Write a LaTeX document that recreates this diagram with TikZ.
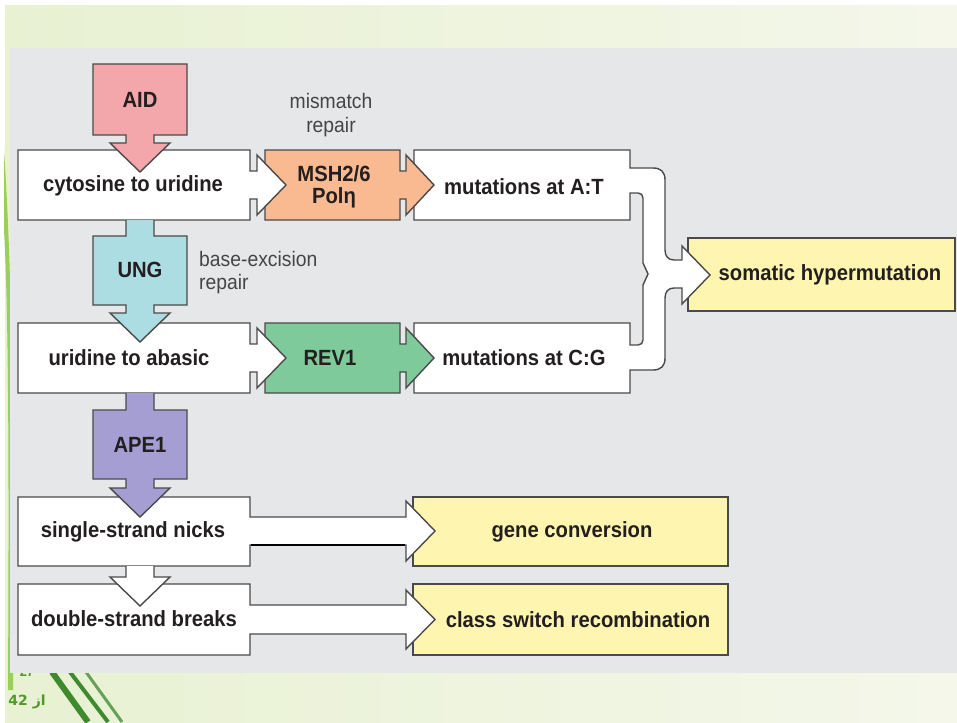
\documentclass[tikz,border=0pt]{standalone}
\usepackage{fontspec}
\setmainfont{Liberation Sans}[FakeStretch=0.92]
\newfontfamily\arabicfont[Script=Arabic]{DejaVu Sans}
\TeXXeTstate=1
\definecolor{panel}{HTML}{E6E7E9}
\definecolor{bgl}{HTML}{E8F1D2}
\definecolor{bgr}{HTML}{F4F7EA}
\definecolor{leaf}{HTML}{9CCF5A}
\definecolor{leafd}{HTML}{3E8B2E}
\definecolor{pgnum}{HTML}{4E9A2A}
\definecolor{outl}{HTML}{4A4A4A}
\definecolor{txt}{HTML}{231F20}
\definecolor{notec}{HTML}{454545}
\definecolor{aidc}{HTML}{F4A7AA}
\definecolor{mshc}{HTML}{F9BA91}
\definecolor{ungc}{HTML}{ABDDE3}
\definecolor{revc}{HTML}{7FCA9A}
\definecolor{apec}{HTML}{A59ED2}
\definecolor{yelc}{HTML}{FEF6B0}
\tikzset{
  blk/.style={draw=outl, line width=1.4pt, line join=miter},
  lbl/.style={font=\fontsize{22}{24}\selectfont\bfseries, text=txt, inner sep=0pt},
  note/.style={font=\fontsize{21}{25}\selectfont, text=notec, inner sep=0pt},
  pg/.style={font=\fontsize{14}{16}\selectfont\bfseries, text=pgnum, inner sep=0pt}
}
\begin{document}
\begin{tikzpicture}[x=1pt,y=-1pt]
\useasboundingbox (0,0) rectangle (957,722);
% slide background
\fill[white] (0,0) rectangle (957,722);
\shade[left color=bgl, right color=bgr] (5,6) rectangle (957,722);
\fill[leaf] (4,150) .. controls (14,300) and (14,500) .. (13,690) -- (8,690) .. controls (9,500) and (9,320) .. (4,230) -- cycle;
\draw[leafd, line width=6pt] (52,672) -- (88,722);
\draw[leafd, line width=4pt] (70,672) -- (108,722);
\draw[leafd!80, line width=3pt] (86,672) -- (122,722);
\node[pg] (pgcur) at (27,672) {27};
\node[pg] (pgall) at (27,702) {\arabicfont\bfseries\beginR از \beginL 42\endL\endR};
% panel
\fill[panel] (10,48) rectangle (957,673);

% somatic hypermutation box
\filldraw[blk, fill=yelc] (688,238) rectangle (955,311);
% mutation boxes with merging bracket
\filldraw[blk, fill=white] (414,150) -- (630,150) -- (630,168) -- (653,168)
  .. controls (661,168) and (665,172) .. (665,180) -- (665,250)
  .. controls (665,256) and (668,260) .. (674,260) -- (682,260) -- (682,246)
  -- (710,275) -- (682,304) -- (682,288) -- (674,288)
  .. controls (668,288) and (665,292) .. (665,298) -- (665,358)
  .. controls (665,366) and (661,370) .. (653,370) -- (630,370) -- (630,393)
  -- (414,393) -- (414,323) -- (630,323) -- (630,345) -- (638,345)
  .. controls (641,345) and (643,343) .. (643,340) -- (643,285) -- (648,274)
  -- (643,263) -- (643,198) .. controls (643,195) and (641,193) .. (638,193)
  -- (630,193) -- (630,220) -- (414,220) -- cycle;
% middle enzyme boxes with arrows
\filldraw[blk, fill=mshc] (265,150) -- (400,150) -- (400,171) -- (406,171) -- (406,155)
  -- (434,185) -- (406,215) -- (406,199) -- (400,199) -- (400,220) -- (265,220) -- cycle;
\filldraw[blk, fill=revc] (265,323) -- (400,323) -- (400,344) -- (406,344) -- (406,328)
  -- (434,358) -- (406,388) -- (406,372) -- (400,372) -- (400,393) -- (265,393) -- cycle;
% left boxes rows 1-2
\filldraw[blk, fill=white] (18,150) -- (250,150) -- (250,171) -- (257,171) -- (257,155)
  -- (286,185) -- (257,215) -- (257,199) -- (250,199) -- (250,220) -- (18,220) -- cycle;
\filldraw[blk, fill=white] (18,323) -- (250,323) -- (250,344) -- (257,344) -- (257,328)
  -- (286,358) -- (257,388) -- (257,372) -- (250,372) -- (250,393) -- (18,393) -- cycle;
% AID
\filldraw[blk, fill=aidc] (93,64) -- (187,64) -- (187,135) -- (154,135) -- (154,143)
  -- (170,143) -- (140,172) -- (110,143) -- (126,143) -- (126,135) -- (93,135) -- cycle;
% UNG
\path[blk, fill=ungc] (126,220) -- (126,236) -- (93,236) -- (93,305) -- (126,305)
  -- (126,313) -- (110,313) -- (140,342) -- (170,313) -- (154,313) -- (154,305)
  -- (187,305) -- (187,236) -- (154,236) -- (154,220);
% yellow outcome boxes
\filldraw[blk, fill=yelc] (413,497) rectangle (728,566);
\filldraw[blk, fill=yelc] (413,584) rectangle (728,655);
% rows 3-4
\filldraw[blk, fill=white] (18,497) -- (250,497) -- (250,517) -- (406,517) -- (406,501)
  -- (435,531) -- (406,561) -- (406,545) -- (250,545) -- (250,566) -- (18,566) -- cycle;
\draw[black, line width=2.4pt] (251,545) -- (405,545);
\filldraw[blk, fill=white] (18,584) -- (250,584) -- (250,605) -- (406,605) -- (406,590)
  -- (435,619.5) -- (406,649) -- (406,634) -- (250,634) -- (250,655) -- (18,655) -- cycle;
% APE1
\path[blk, fill=apec] (126,393) -- (126,410) -- (93,410) -- (93,479) -- (126,479)
  -- (126,488) -- (110,488) -- (140,517) -- (170,488) -- (154,488) -- (154,479)
  -- (187,479) -- (187,410) -- (154,410) -- (154,393);
% white arrow single -> double
\path[blk, fill=white] (126,566) -- (126,577) -- (110,577) -- (140,606) -- (170,577)
  -- (154,577) -- (154,566);

% labels
\node[lbl] (aid) at (140,100) {AID};
\node[note] (mm1) at (331,101) {mismatch};
\node[note] (mm2) at (331,127) {repair};
\node[lbl] (cyt) at (133,186) {cytosine to uridine};
\node[lbl] (msh) at (334,174) {MSH2/6};
\node[lbl] (pol) at (334,198) {Polη};
\node[lbl] (mat) at (524,187) {mutations at A:T};
\node[lbl] (ung) at (140,270) {UNG};
\node[note, anchor=west] (ber1) at (199,259) {base-excision};
\node[note, anchor=west] (ber2) at (199,284) {repair};
\node[lbl] (uri) at (129,358) {uridine to abasic};
\node[lbl] (rev) at (330,358) {REV1};
\node[lbl] (mcg) at (524,358) {mutations at C:G};
\node[lbl] (som) at (830,275) {somatic hypermutation};
\node[lbl] (ape) at (140,445) {APE1};
\node[lbl] (ssn) at (133,532) {single-strand nicks};
\node[lbl] (dsb) at (134,619) {double-strand breaks};
\node[lbl] (gc) at (572,532) {gene conversion};
\node[lbl] (csr) at (578,620) {class switch recombination};
\end{tikzpicture}
\end{document}
